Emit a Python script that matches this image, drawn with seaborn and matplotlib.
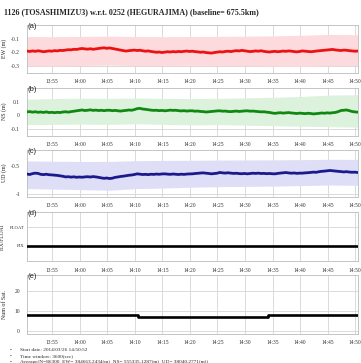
import matplotlib
matplotlib.use("Agg")
import pandas as pd
import numpy as np
import matplotlib.pyplot as plt
import matplotlib.dates as mdates
import seaborn as sns

sns.set_theme(style="whitegrid")
plt.rcParams['font.family'] = ['Liberation Serif', 'DejaVu Serif']

# time axis: one value every 30 s, bands every 5 min
t_start = "2014-03-26 13:50:25"
t_end = "2014-03-26 14:50:25"

ew = [-0.192, -0.195, -0.191, -0.194, -0.190, -0.193, -0.197, -0.194, -0.191, -0.193,
      -0.189, -0.191, -0.187, -0.188, -0.185, -0.182, -0.183, -0.179, -0.180, -0.176,
      -0.173, -0.176, -0.178, -0.175, -0.179, -0.176, -0.173, -0.170, -0.168, -0.172,
      -0.169, -0.173, -0.177, -0.181, -0.185, -0.189, -0.192, -0.189, -0.187, -0.185,
      -0.188, -0.186, -0.190, -0.193, -0.191, -0.195, -0.198, -0.201, -0.199, -0.203,
      -0.200, -0.197, -0.199, -0.196, -0.198, -0.195, -0.197, -0.194, -0.192, -0.195,
      -0.193, -0.196, -0.198, -0.201, -0.199, -0.203, -0.205, -0.207, -0.203, -0.200,
      -0.197, -0.199, -0.195, -0.193, -0.196, -0.192, -0.189, -0.191, -0.187, -0.190,
      -0.193, -0.196, -0.194, -0.191, -0.193, -0.190, -0.194, -0.197, -0.199, -0.196,
      -0.194, -0.197, -0.195, -0.192, -0.194, -0.191, -0.193, -0.196, -0.198, -0.195,
      -0.191, -0.193, -0.195, -0.197, -0.195, -0.192, -0.190, -0.188, -0.186, -0.184,
      -0.182, -0.180, -0.184, -0.186, -0.188, -0.185, -0.186, -0.189, -0.191, -0.193,
      -0.192]

ns = [0.024, 0.026, 0.022, 0.025, 0.021, 0.023, 0.020, 0.024, 0.019, 0.021,
      0.018, 0.021, 0.019, 0.023, 0.025, 0.022, 0.026, 0.029, 0.032, 0.035,
      0.038, 0.034, 0.036, 0.039, 0.035, 0.037, 0.034, 0.036, 0.033, 0.036,
      0.036, 0.033, 0.035, 0.032, 0.030, 0.033, 0.035, 0.038, 0.036, 0.041,
      0.048, 0.050, 0.045, 0.043, 0.040, 0.037, 0.035, 0.036, 0.033, 0.035,
      0.032, 0.034, 0.037, 0.035, 0.036, 0.033, 0.031, 0.033, 0.030, 0.032,
      0.032, 0.029, 0.030, 0.027, 0.026, 0.023, 0.025, 0.027, 0.029, 0.031,
      0.032, 0.029, 0.030, 0.027, 0.026, 0.028, 0.030, 0.027, 0.029, 0.031,
      0.032, 0.029, 0.030, 0.028, 0.026, 0.024, 0.025, 0.022, 0.020, 0.016,
      0.013, 0.016, 0.018, 0.015, 0.017, 0.019, 0.016, 0.014, 0.012, 0.015,
      0.013, 0.011, 0.014, 0.012, 0.009, 0.011, 0.013, 0.016, 0.014, 0.017,
      0.015, 0.018, 0.020, 0.026, 0.034, 0.036, 0.038, 0.033, 0.027, 0.024,
      0.022]

ud = [-0.640, -0.648, -0.632, -0.623, -0.628, -0.645, -0.650, -0.643, -0.652, -0.655,
      -0.660, -0.664, -0.672, -0.680, -0.692, -0.688, -0.696, -0.690, -0.699, -0.694,
      -0.698, -0.692, -0.688, -0.694, -0.686, -0.692, -0.700, -0.710, -0.718, -0.712,
      -0.722, -0.715, -0.700, -0.693, -0.684, -0.678, -0.670, -0.662, -0.657, -0.648,
      -0.636, -0.642, -0.648, -0.645, -0.650, -0.643, -0.646, -0.640, -0.644, -0.638,
      -0.636, -0.641, -0.645, -0.639, -0.643, -0.648, -0.642, -0.646, -0.640, -0.637,
      -0.636, -0.630, -0.626, -0.621, -0.618, -0.624, -0.629, -0.636, -0.630, -0.625,
      -0.611, -0.618, -0.622, -0.616, -0.623, -0.628, -0.625, -0.631, -0.634, -0.629,
      -0.636, -0.630, -0.624, -0.628, -0.623, -0.630, -0.627, -0.633, -0.629, -0.634,
      -0.636, -0.628, -0.622, -0.617, -0.612, -0.619, -0.624, -0.620, -0.627, -0.623,
      -0.623, -0.618, -0.615, -0.610, -0.604, -0.608, -0.597, -0.590, -0.586, -0.580,
      -0.574, -0.580, -0.585, -0.590, -0.595, -0.601, -0.596, -0.603, -0.607, -0.605,
      -0.611]

ew_hi = [-0.085, -0.086, -0.084, -0.082, -0.085, -0.086, -0.085, -0.084, -0.082, -0.080, -0.076, -0.070, -0.072]
ew_lo = [-0.300, -0.302, -0.298, -0.295, -0.300, -0.298, -0.297, -0.298, -0.300, -0.302, -0.303, -0.300, -0.298]
ns_hi = [0.118, 0.122, 0.125, 0.124, 0.126, 0.123, 0.122, 0.124, 0.128, 0.132, 0.138, 0.148, 0.150]
ns_lo = [-0.070, -0.068, -0.066, -0.068, -0.064, -0.068, -0.072, -0.070, -0.074, -0.078, -0.082, -0.085, -0.088]
ud_hi = [-0.400, -0.405, -0.410, -0.408, -0.395, -0.390, -0.388, -0.384, -0.382, -0.380, -0.376, -0.370, -0.372]
ud_lo = [-0.905, -0.915, -0.925, -0.935, -0.905, -0.895, -0.880, -0.870, -0.865, -0.860, -0.850, -0.840, -0.845]

fix_times = [t_start, t_end]
fix_state = [0, 0]          # 0 = FIX, 1 = FLOAT

sat_times = [t_start, "2014-03-26 14:10:34", "2014-03-26 14:34:12", t_end]
sat_count = [8, 7, 8, 8]

title = "1126 (TOSASHIMIZU3) w.r.t. 0252 (HEGURAJIMA) (baseline= 675.5km)"
footer = ["Start date: 2014/03/26 14:50:52",
          "Time window: 3600(sec)",
          "Average(N=86300, EW= 384663.2434(m), NS= 555335.1287(m), UD= 38040.2771(m))"]

times = pd.date_range(t_start, periods=len(ew), freq="30s")
band_times = pd.date_range(t_start, periods=len(ew_hi), freq="5min")

fig = plt.figure(figsize=(3.61, 3.63), dpi=100)
W, H = 361.0, 363.0
left, width = 27 / W, 330.5 / W
# (top px, bottom px) of each panel
boxes = [(25, 72.5), (88, 135.5), (150, 196.5), (212, 261), (275, 333.5)]
axes = []
for top, bot in boxes:
    axes.append(fig.add_axes([left, 1 - bot / H, width, (bot - top) / H]))

series = [
    (ew, ew_hi, ew_lo, "#ee1111", "#fcdadd", (-0.35, 0.0), [-0.3, -0.2, -0.1], ["-0.3", "-0.2", "-0.1"], "EW (m)"),
    (ns, ns_hi, ns_lo, "#118811", "#dcf2dc", (-0.15, 0.2), [-0.1, 0, 0.1], ["-0.1", "0", "0.1"], "NS (m)"),
    (ud, ud_hi, ud_lo, "#1a1a8c", "#dedef7", (-1.05, -0.2), [-1, -0.5], ["-1", "-0.5"], "UD (m)"),
]

for ax, (vals, hi, lo, c, bc, yl, yt, ytl, lab) in zip(axes[:3], series):
    ax.fill_between(band_times, lo, hi, color=bc, lw=0, zorder=1)
    sns.lineplot(x=times, y=vals, ax=ax, color=c, lw=2.0, zorder=3)
    ax.set_ylim(*yl)
    ax.set_yticks(yt)
    ax.set_yticklabels(ytl)
    ax.set_ylabel(lab)

ax = axes[3]
sns.lineplot(x=pd.to_datetime(fix_times), y=fix_state, ax=ax, color="black", lw=1.9, zorder=3)
ax.set_ylim(-0.85, 1.85)
ax.set_yticks([0, 1])
ax.set_yticklabels(["FIX", "FLOAT"])
ax.set_ylabel("FIX/FLOAT")

ax = axes[4]
sns.lineplot(x=pd.to_datetime(sat_times), y=sat_count, ax=ax, color="black", lw=1.9,
             drawstyle="steps-post", zorder=3)
ax.set_ylim(-1, 28)
ax.set_yticks([0, 10, 20])
ax.set_ylabel("Num of Sat.")

for ax, letter in zip(axes, "abcde"):
    ax.set_xlim(pd.Timestamp(t_start), pd.Timestamp(t_end))
    ax.xaxis.set_major_locator(mdates.MinuteLocator(byminute=range(0, 60, 5)))
    ax.xaxis.set_major_formatter(mdates.DateFormatter("%H:%M"))
    ax.set_xlabel("")
    ax.grid(True, color="#d4d4d4", lw=0.6)
    ax.set_facecolor("white")
    for s in ax.spines.values():
        s.set_color("#bbbbbb")
        s.set_linewidth(0.6)
    ax.tick_params(labelsize=4, length=0, pad=5, colors="#333333")
    ax.yaxis.label.set_size(4.3)
    ax.yaxis.set_label_coords(-0.062, 0.5)
    ax.text(0.003, 0.97, "(%s)" % letter, transform=ax.transAxes, fontsize=5.5,
            family="Liberation Sans", va="center", ha="left", color="#222222", zorder=5)

# FIX/FLOAT tick labels sit closer to the axis
axes[3].tick_params(axis="y", labelsize=3.4, pad=2)
axes[3].yaxis.label.set_size(4.0)
axes[3].yaxis.set_label_coords(-0.066, 0.5)

fig.text(4 / W, 1 - 12 / H, title, fontsize=5.8, fontweight="bold", va="center", ha="left")

for i, line in enumerate(footer):
    y = 1 - (350 + 6 * i) / H
    fig.text(10 / W, y, "\u2022", fontsize=3.8, va="center", ha="left")
    fig.text(20 / W, y, line, fontsize=3.8, va="center", ha="left")

fig.savefig("out.png", dpi=100)
